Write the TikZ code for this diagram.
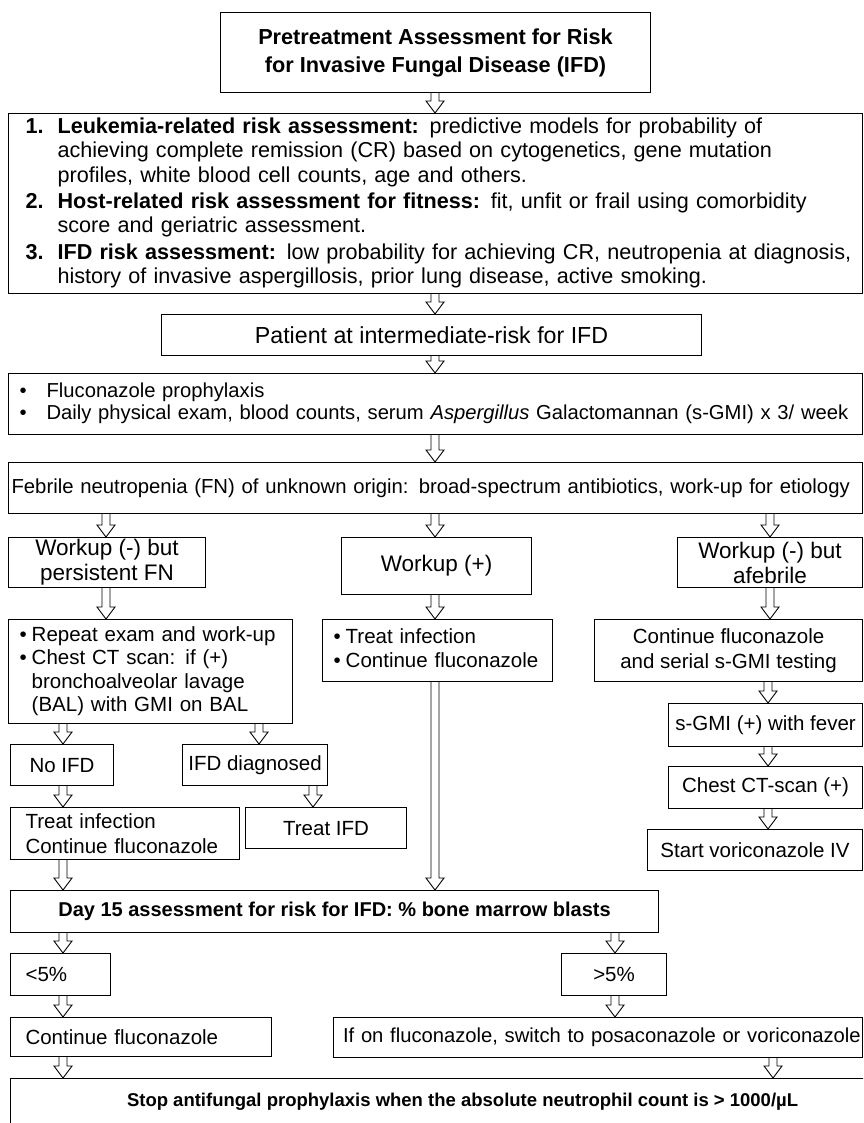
\documentclass[tikz,border=0pt]{standalone}
\usepackage{fontspec}
\setmainfont{Liberation Sans}
\usetikzlibrary{calc}

% open block arrow between two boxes, at a given x
\newcommand{\hollowarrow}[3]{%
  \draw[hollow] let \p1=(#1,0 |- #2.south), \p2=(#1,0 |- #3.north) in
    (\x1-4pt,\y1) -- (\x1-4pt,\y2+12pt) -- (\x1-9pt,\y2+12pt) -- (\x1,\y2)
    -- (\x1+9pt,\y2+12pt) -- (\x1+4pt,\y2+12pt) -- (\x1+4pt,\y1);}

\begin{document}
\begin{tikzpicture}[x=1pt, y=-1pt,
    flowbox/.style={draw, line width=1.1pt, inner sep=0pt, anchor=north west,
      font=\fontsize{20.5}{24.6}\selectfont},
    bigger/.style={font=\fontsize{22.5}{25}\selectfont},
    hollow/.style={draw, line width=0.9pt, line join=miter}]
  \useasboundingbox (0,0) rectangle (863,1123);
  \clip (0,0) rectangle (863,1123);
  % pretreatment header and risk list
  \node[flowbox, minimum width=430pt, minimum height=80pt, align=center,
    font=\fontsize{21.7}{28}\selectfont\bfseries] (pretreat) at (220,12)
    {Pretreatment Assessment for Risk\\for Invasive Fungal Disease (IFD)};
  \node[flowbox, minimum width=854pt, minimum height=180pt, text width=820pt, align=left,
    font=\fontsize{21.6}{24.3}\selectfont] (riskass) at (8,113)
    {\begin{tabular}{@{}l@{\hspace{14pt}}l@{}}
     \textbf{1.} & \textbf{Leukemia-related risk assessment:} predictive models for probability of\\
      & achieving complete remission (CR) based on cytogenetics, gene mutation\\
      & profiles, white blood cell counts, age and others.\\[2pt]
     \textbf{2.} & \textbf{Host-related risk assessment for fitness:} fit, unfit or frail using comorbidity\\
      & score and geriatric assessment.\\[2pt]
     \textbf{3.} & \textbf{IFD risk assessment:} low probability for achieving CR, neutropenia at diagnosis,\\
      & history of invasive aspergillosis, prior lung disease, active smoking.
     \end{tabular}};
  \node[flowbox, minimum width=540pt, minimum height=41pt,
    font=\fontsize{23.2}{27}\selectfont] (interm) at (161,314) {Patient at intermediate-risk for IFD};
  \node[flowbox, minimum width=854pt, minimum height=61pt, text width=832pt, align=left,
    font=\fontsize{20.2}{22.5}\selectfont] (proph) at (8,373)
    {\begin{tabular}{@{}l@{\hspace{20pt}}l@{}}
     \textbullet & Fluconazole prophylaxis\\
     \textbullet & Daily physical exam, blood counts, serum \textit{Aspergillus} Galactomannan (s-GMI) x 3/ week
     \end{tabular}};
  \node[flowbox, minimum width=854pt, minimum height=51pt, text width=848pt, align=left,
    font=\fontsize{20.3}{24}\selectfont] (febrile) at (8,462)
    {\mbox{Febrile neutropenia (FN) of unknown origin: broad-spectrum antibiotics, work-up for etiology}};
  % three workup branches
  \node[flowbox, bigger, minimum width=197pt, minimum height=50pt, align=center] (wneg) at (8,537)
    {Workup (-) but\\persistent FN};
  \node[flowbox, bigger, minimum width=190pt, minimum height=57pt] (wpos) at (341,537) {Workup (+)};
  \node[flowbox, bigger, minimum width=185pt, minimum height=50pt, align=center] (wafeb) at (677,537)
    {Workup (-) but\\afebrile};
  \node[flowbox, minimum width=284pt, minimum height=104pt, text width=262pt, align=left,
    font=\fontsize{20.5}{23.5}\selectfont] (repeatwk) at (8,619)
    {\begin{tabular}{@{}l@{\hspace{5pt}}l@{}}
     \textbullet & Repeat exam and work-up\\
     \textbullet & Chest CT scan: if (+)\\
      & bronchoalveolar lavage\\
      & (BAL) with GMI on BAL
     \end{tabular}};
  \node[flowbox, minimum width=230pt, minimum height=62pt, text width=208pt, align=left] (treatinf) at (322,619)
    {\begin{tabular}{@{}l@{\hspace{5pt}}l@{}}
     \textbullet & Treat infection\\
     \textbullet & Continue fluconazole
     \end{tabular}};
  \node[flowbox, minimum width=268pt, minimum height=62pt, align=center] (contsgmi) at (594,619)
    {Continue fluconazole\\and serial s-GMI testing};
  % afebrile column
  \node[flowbox, minimum width=194pt, minimum height=43pt] (sgmi) at (668,703) {s-GMI (+) with fever};
  \node[flowbox, minimum width=194pt, minimum height=42pt] (chestct) at (668,766) {Chest CT-scan (+)};
  \node[flowbox, minimum width=215pt, minimum height=41pt] (vorico) at (647,829) {Start voriconazole IV};
  % persistent FN column
  \node[flowbox, minimum width=103pt, minimum height=41pt] (noifd) at (10,744) {No IFD};
  \node[flowbox, minimum width=145pt, minimum height=41pt] (ifddx) at (182,744) {IFD diagnosed};
  \node[flowbox, minimum width=229pt, minimum height=52pt, text width=199pt, align=left] (treatcont) at (10,807)
    {Treat infection\\Continue fluconazole};
  \node[flowbox, minimum width=161pt, minimum height=41pt] (treatifd) at (245,807) {Treat IFD};
  % day 15 assessment
  \node[flowbox, minimum width=648pt, minimum height=42pt,
    font=\fontsize{20}{24}\selectfont\bfseries] (day15) at (10,890)
    {Day 15 assessment for risk for IFD: \% bone marrow blasts};
  \node[flowbox, minimum width=100pt, minimum height=42pt, text width=70pt, align=left] (blastlow) at (10,953) {<5\%};
  \node[flowbox, minimum width=105pt, minimum height=42pt] (blasthigh) at (561,953) {>5\%};
  \node[flowbox, minimum width=261pt, minimum height=39pt, text width=231pt, align=left] (keepfluco) at (10,1017)
    {Continue fluconazole};
  \node[flowbox, minimum width=529pt, minimum height=40pt, text width=510pt, align=left,
    font=\fontsize{20.2}{24}\selectfont] (switchazole) at (333,1017)
    {\mbox{If on fluconazole, switch to posaconazole or voriconazole}};
  \node[flowbox, minimum width=904pt, minimum height=47pt,
    font=\fontsize{18.5}{23}\selectfont\bfseries] (stopproph) at (10,1078)
    {Stop antifungal prophylaxis when the absolute neutrophil count is > 1000/µL};
  % block arrows
  \foreach \ax/\from/\to in {435/pretreat/riskass, 435/riskass/interm, 435/interm/proph,
      435/proph/febrile, 106/febrile/wneg, 435/febrile/wpos, 770/febrile/wafeb,
      106/wneg/repeatwk, 435/wpos/treatinf, 770/wafeb/contsgmi,
      768/contsgmi/sgmi, 768/sgmi/chestct, 768/chestct/vorico,
      63/repeatwk/noifd, 259/repeatwk/ifddx, 63/noifd/treatcont, 313/ifddx/treatifd,
      63/treatcont/day15, 435/treatinf/day15,
      63/day15/blastlow, 615/day15/blasthigh, 63/blastlow/keepfluco, 615/blasthigh/switchazole,
      63/keepfluco/stopproph, 773/switchazole/stopproph}
    \hollowarrow{\ax}{\from}{\to};
\end{tikzpicture}
\end{document}
